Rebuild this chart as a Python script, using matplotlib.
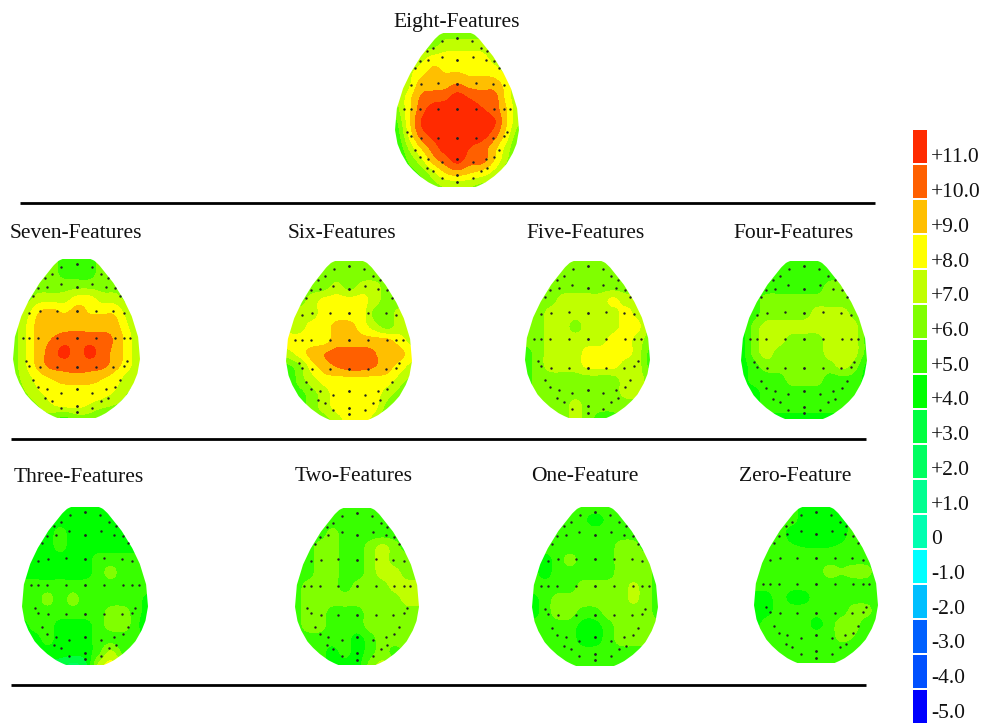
import numpy as np
import matplotlib
matplotlib.use("Agg")
import matplotlib.pyplot as plt
from matplotlib.colors import ListedColormap, BoundaryNorm
from matplotlib.patches import Polygon

# Colour scale
SCALE_VALUES = [-5, -4, -3, -2, -1, 0, 1, 2, 3, 4, 5, 6, 7, 8, 9, 10, 11]
SCALE_LABELS = ["-5.0", "-4.0", "-3.0", "-2.0", "-1.0", "0", "+1.0", "+2.0", "+3.0",
                "+4.0", "+5.0", "+6.0", "+7.0", "+8.0", "+9.0", "+10.0", "+11.0"]
SCALE_COLORS = ["#0000ff", "#0050ff", "#0060ff", "#00bfff", "#00ffff", "#00ffb0", "#00ff90",
                "#00ff60", "#00ff40", "#00ff00", "#38ff00", "#80ff00", "#c0ff00",
                "#ffff00", "#ffbf00", "#ff6000", "#ff2a00"]

# Scalp values: rows front to back, columns left to right
EIGHT = [
 [5,5,6,6,6,6,6,6,6,5,5],
 [5,6,6,6,7,7,7,7,6,6,5],
 [5,6,7,8,8,8,8,8,7,6,5],
 [5,7,8,8.8,8.4,8.4,8.2,8.2,8,7,5],
 [5,7,9,9,9,9.6,9,9,9,8,6],
 [6,8,9.6,10,10.2,11,10.4,10,10,8,6.5],
 [6,8,10,11,11,11,11,10.6,10,8.5,6.5],
 [5,8,10.6,11,11,11,11,11,10.8,8.5,6.5],
 [4.5,7.5,10,10.8,11,11,11,11,10,8,5.5],
 [4,6.5,8.5,10,11,11,10.5,10,8.8,7,5],
 [4,5.5,7,9,10,11,10,10,8.5,6.5,5],
 [5,5,5.5,7,8.5,9,8.5,8,7,5.5,5],
 [5,5,5,6,6.5,6.5,6.5,6,6,5,5]]
SEVEN = [
 [6,6,6,6,5,5,5,6,6,6,6],
 [6,6,6,6,5,5,5,6,6,6,6],
 [6,6,6,6,6,6,6,6,6,6,6],
 [6,6,7,7,7,8,8,7,7,6,6],
 [6,7,8.6,9,8.4,9,8.4,8.4,8.4,7,6],
 [6,7.5,9,9,9,9,9,9,9,7.5,6.5],
 [6,7.5,9,9.5,10,10.2,10,10,9.4,8,6.5],
 [6,7.5,9,10,11,10,11,10,9.2,8,6.5],
 [6,7.5,9,10,10,10.2,10,10,9,8,6.5],
 [6,7,8,8.5,9,9,9,8.5,8,7,6.5],
 [6,6.5,7.5,8,8,8,8,8,7.5,6.5,6],
 [6,6,6.5,7.5,8,8,7.5,7,6.5,6,6],
 [6,6,6,6,5,6,6,5,5,6,6]]
SIX = [
 [6,6,6,6,6,6,6,6,6,6,6],
 [6,6,6,6,6,6,6,6,6,6,6],
 [6,6,6,6,7,6,7,7,6,6,6],
 [6,6,7,8,8,8,8,7,6,6,6],
 [6,7,7,8,8,8,8,6,6,7,6],
 [7,7,8,8,9,9,8,7,6,7,7],
 [8,8,8,8,9,9,9,9,9,8,7],
 [7,8,9,9.6,10,10,10,9.6,9,9,8],
 [5,6,8,9,9.6,10,10,9.6,9,8,7],
 [4,6,7,8,8,8,8,8,8,7,6],
 [5,5,6,7,8,8,8,8,7,6,5],
 [5,5,6,7,8,8,8,8,6,5,5],
 [6,6,6,6,7,8,8,7,5,5,5]]
FIVE = [
 [6,6,6,6,6,6,6,6,6,6,6],
 [6,6,6,6,6,6,6,6,6,6,6],
 [6,6,6,6,6,6,6,6,6,6,6],
 [6,6,6,7,7,7,7,8,7,7,6],
 [6,6,7,7,7,7,7,7,8,7,6],
 [6,6,7,7,6,7,7,7,8,8,6],
 [6,6,7,7,7,7,7,8,8,7,6],
 [5,6,7,7,7,8,8,8,8,7,5],
 [5,6,7,7,7,8,8,8,7,7,5],
 [5,6,6,6,6,6,6,6,7,7,6],
 [5,6,6,6,6,6,6,6,7,7,6],
 [6,6,6,6,7,6,6,6,6,6,6],
 [6,6,6,6,7,6,5,5,6,6,6]]
FOUR = [
 [4,4,5,5,5,5,5,5,5,5,4],
 [4,5,5,5,5,5,5,5,5,4,4],
 [4,5,5,5,5,5,5,6,6,5,4],
 [4,5,6,6,6,6,6,6,6,6,5],
 [4,5,6,6,6,6,7,7,7,6,5],
 [4,6,7,7,7,7,7,7,7,7,5],
 [4,6,7,7,6,6,6,7,7,7,5],
 [4,6,7,6,6,6,6,7,7,7,5],
 [4,5,6,6,6,6,6,6,7,6,4],
 [4,5,5,5,6,6,6,5,5,5,4],
 [4,4,5,5,5,5,5,5,5,5,4],
 [4,4,5,5,5,5,5,5,5,5,4],
 [4,4,4,4,4,4,4,4,4,4,4]]
THREE = [
 [4,4,4,4,4,4,4,4,4,4,4],
 [4,4,4,4,4,4,4,4,4,4,4],
 [4,4,4,5,4,4,4,4,4,4,4],
 [4,4,4,5,4,4,4,4,4,4,4],
 [4,4,4,4,4,4,5,5,5,5,4],
 [4,4,4,4,4,4,5,6,5,5,5],
 [5,5,5,5,5,5,5,5,5,5,5],
 [5,5,6,5,6,5,5,5,5,5,4],
 [5,5,5,5,5,5,5,6,6,5,4],
 [4,5,5,4,4,4,5,6,6,5,3],
 [4,4,5,4,4,4,5,5,5,5,4],
 [4,4,4,4,4,4,5,7,5,4,4],
 [3,3,3,3,2,3,7,8,7,4,4]]
TWO = [
 [5,5,5,5,5,5,5,5,5,5,5],
 [5,5,5,5,5,5,5,5,5,5,5],
 [5,5,5,6,5,5,5,5,5,5,5],
 [5,5,6,6,5,5,6,7,6,5,5],
 [5,5,6,6,5,5,6,7,6,6,5],
 [5,5,6,6,5,5,6,7,7,6,6],
 [5,6,6,6,5,6,6,6,7,7,7],
 [5,6,6,6,6,6,6,6,6,7,7],
 [5,6,6,5,5,5,6,6,6,6,6],
 [5,6,6,5,5,5,6,6,6,6,6],
 [5,5,5,5,5,4,5,6,6,6,6],
 [5,5,5,4,5,4,5,6,5,6,6],
 [5,5,5,4,4,4,6,7,6,6,6]]
ONE = [
 [5,5,5,5,5,5,5,5,5,5,5],
 [5,5,5,5,4.7,4,4.7,5,5,5,5],
 [5,5,5,5,5,5,5,5,5,5,5],
 [5,5,5,5,5,5,5,6,6,5,5],
 [5,4,5,6,5,5,5,6,6,6,5],
 [5,4,5,5,5,5,5,6,6,6,5],
 [5,5,5,5,6,6,6,6,6.8,6,5],
 [4,5,6,6,6,6,6,6,6.8,6,5],
 [4,5,6,6,5,5,6,6,6,6,5],
 [5,5,5,5,4,4,5,6,6,6,6],
 [5,5,5,5,4,4,5,6,6,6,6],
 [5,5,5,5,5,5,5,5,5,5,5],
 [5,5,5,5,5,5,5,5,5,5,5]]
ZERO = [
 [5,5,5,5,4,4,4,5,5,5,5],
 [5,5,5,5,4,4,4,4,5,5,5],
 [5,5,5,4,4,4,4,4,5,5,5],
 [5,5,5,4.6,4.4,4.4,4.4,4.6,5,5,5],
 [5,5,5,5,5,5,5,5,5,5,5],
 [5,5,5,5,5,5,6,5.6,6,6,5],
 [5,5,5,5,5,5,5,5,5,5,5],
 [4,4,5,4,4,5,5,5,5,5,5],
 [4,4,5,5,5,5,5,5,6,6,5],
 [4,5,5,5,5,4,5,6,6,5,5],
 [5,5,5,5,5,5,5,6,5.5,5,5],
 [5,5,5,4.5,5,5,5,5,5,5,5],
 [5,5,5,5,5,5,5,5,5,5,5]]

PANEL_TITLES = ["Eight-Features", "Seven-Features", "Six-Features", "Five-Features", "Four-Features",
                "Three-Features", "Two-Features", "One-Feature", "Zero-Feature"]
PANEL_DATA = [EIGHT, SEVEN, SIX, FIVE, FOUR, THREE, TWO, ONE, ZERO]

# Electrode sites (one half; mirrored in the drawing), lateral and front-back position
SITE_U = [0, .24, .38, .49, .25, .46, 0, .60, .68, .58, .30, 0, .75, .85, .75, .60, .30, 0,
          .80, .75, .58, .30, 0, .68, .60, .46, .25, 0, .49, .38, .25, 0, 0]
SITE_T = [.03, .05, .095, .12, .155, .175, .175, .185, .23, .33, .325, .33, .34, .495, .495, .495, .495, .495,
          .64, .67, .68, .68, .68, .76, .805, .82, .84, .82, .875, .895, .94, .925, .965]

# Layout in pixels: head centre x, half width, top, bottom; title centre x, y
HEADS = [(457, 62, 33, 187), (76.5, 63.5, 259, 418), (349, 63, 261, 420), (587.5, 62.5, 261, 418),
         (804, 63, 261, 419), (85, 63, 507, 665), (357, 62, 508, 665), (595, 63, 507, 666), (816, 62, 507, 663)]
TITLES_AT = [(457, 23), (76, 234), (342, 234), (586, 234), (794, 234),
             (79, 477.5), (354, 476.5), (585, 476.5), (795, 476.5)]
RULES = [(20, 875, 203), (11, 866, 439), (11, 866, 685)]

# Head outline: half width against depth
OUT_T = [0, .01, .04, .08, .15, .26, .36, .49, .63, .72, .78, .85, .89, .93, .97, .99, 1]
OUT_W = [.22, .28, .36, .44, .58, .75, .87, .97, 1, .96, .90, .80, .71, .60, .46, .36, .30]

plt.rcParams["font.family"] = ["Liberation Serif", "DejaVu Serif"]
fig = plt.figure(figsize=(9.83, 7.23), dpi=100)
ax = fig.add_axes([0, 0, 1, 1])
cmap = ListedColormap(SCALE_COLORS)
edges = np.array(SCALE_VALUES + [12]) - 0.5
norm = BoundaryNorm(edges, cmap.N)

for data, (cx, hw, top, bot), title, (tx, ty) in zip(PANEL_DATA, HEADS, PANEL_TITLES, TITLES_AT):
    arr = np.asarray(data, dtype=float)
    h = bot - top
    nr, nc = arr.shape
    dx, dy = hw / (nc - 1), h / (nr - 1) / 2
    im = ax.imshow(arr, cmap=cmap, norm=norm, aspect="auto", origin="upper",
                   interpolation="mitchell", interpolation_stage="data",
                   extent=(cx - hw - dx, cx + hw + dx, bot + dy, top - dy), zorder=1)
    tt = np.linspace(0, 1, 160)
    ww = np.interp(tt, OUT_T, OUT_W)
    xy = np.r_[np.c_[cx - ww * hw, top + tt * h], np.c_[cx + ww[::-1] * hw, top + tt[::-1] * h]]
    im.set_clip_path(Polygon(xy, closed=True, transform=ax.transData))
    u = np.array(SITE_U); t = np.array(SITE_T)
    ax.scatter(np.r_[cx + u * hw, cx - u * hw], np.r_[top + t * h, top + t * h],
               s=3.0, c="#222222", linewidths=0, zorder=2)
    ax.text(tx, ty, title, ha="center", va="center", fontsize=15.5, color="#111111")

for x0, x1, y in RULES:
    ax.plot([x0, x1], [y, y], color="black", lw=2.0, solid_capstyle="butt", zorder=3)

# Colour scale, drawn top down
for i, (lab, col) in enumerate(zip(SCALE_LABELS[::-1], SCALE_COLORS[::-1])):
    ax.bar(920, 33, width=14, bottom=130 + 35 * i, color=col, linewidth=0, zorder=2)
    ax.text(931, 158 + 34.7 * i, lab, ha="left", va="center", fontsize=15.5, color="#111111")

ax.set_xlim(0, 983)
ax.set_ylim(723, 0)
ax.axis("off")
fig.savefig("out.png", dpi=100)
